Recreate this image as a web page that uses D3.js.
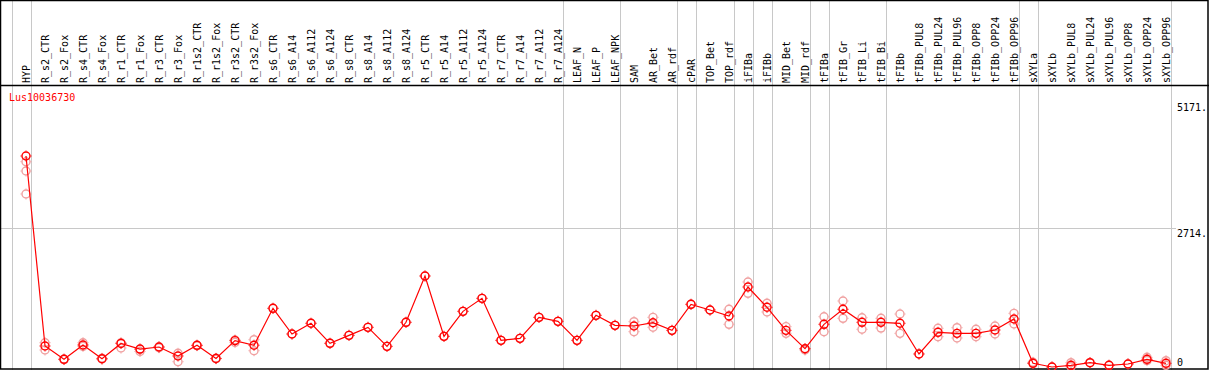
<!DOCTYPE html>
<html>
<head>
<meta charset="utf-8">
<script src="https://cdn.jsdelivr.net/npm/d3@7"></script>
<style>
  body { margin: 0; background: #fff; }
  text { font-family: "DejaVu Sans Mono", monospace; font-size: 10px; }
</style>
</head>
<body>
<div id="chart"></div>
<script>
const samples = [
    'HYP',
    'R_s2_CTR', 'R_s2_Fox', 'R_s4_CTR', 'R_s4_Fox', 'R_r1_CTR', 'R_r1_Fox', 'R_r3_CTR', 'R_r3_Fox',
    'R_r1s2_CTR', 'R_r1s2_Fox', 'R_r3s2_CTR', 'R_r3s2_Fox',
    'R_s6_CTR', 'R_s6_A14', 'R_s6_A112', 'R_s6_A124', 'R_s8_CTR', 'R_s8_A14', 'R_s8_A112', 'R_s8_A124',
    'R_r5_CTR', 'R_r5_A14', 'R_r5_A112', 'R_r5_A124', 'R_r7_CTR', 'R_r7_A14', 'R_r7_A112', 'R_r7_A124',
    'LEAF_N', 'LEAF_P', 'LEAF_NPK',
    'SAM', 'AR_Bet', 'AR_rdf',
    'cPAR',
    'TOP_Bet', 'TOP_rdf',
    'iFIBa',
    'iFIBb',
    'MID_Bet', 'MID_rdf',
    'tFIBa',
    'tFIB_Gr', 'tFIB_Li', 'tFIB_Bi',
    'tFIBb', 'tFIBb_PUL8', 'tFIBb_PUL24', 'tFIBb_PUL96', 'tFIBb_OPP8', 'tFIBb_OPP24', 'tFIBb_OPP96',
    'sXYLa',
    'sXYLb', 'sXYLb_PUL8', 'sXYLb_PUL24', 'sXYLb_PUL96', 'sXYLb_OPP8', 'sXYLb_OPP24', 'sXYLb_OPP96'
];

// number of samples in each group (grey separators between groups)
const groupSizes = [1, 28, 3, 3, 1, 2, 1, 1, 2, 1, 3, 7, 1, 7];

const means = [
    4117,
    410, 150, 430, 160, 460, 350, 390, 215, 423, 165, 515, 425,
    1145, 644, 853, 462, 618, 774, 403, 872,
    1776, 598, 1086, 1340, 520, 559, 969, 891,
    520, 1008, 813,
    800, 864, 715,
    1223,
    1112, 995,
    1561,
    1165,
    715, 357,
    833,
    1126, 872, 872,
    853, 254, 677, 657, 657, 722, 937,
    72,
    0, 33, 84, 33, 59, 150, 72
];

const replicates = [
    [4006, 3824, 3376],
    [474, 332], [150, 150], [474, 403], [170, 156], [474, 370], [345, 303], [377, 396], [267, 103],
    [423, 416], [163, 170], [527, 480], [533, 318],
    [1145], [644], [853], [462], [618], [774], [403], [872],
    [1776], [598], [1086], [1340], [520], [559], [969], [891],
    [520], [1008], [813],
    [884, 689], [969, 775], [715],
    [1223],
    [1112], [1126, 833],
    [1659, 1438],
    [1243, 1073],
    [787, 657], [357, 332],
    [981, 689],
    [1288, 950], [962, 736], [950, 760],
    [1034, 657], [254], [755, 591], [767, 566], [736, 591], [800, 644], [1047, 839],
    [92, 72],
    [0], [84, 5], [84], [33], [59], [189, 124], [123, 33]
];

const geneName = 'Lus10036730';
const yTicks = [0, 2714, 5171];
const yMax = 5171;

const W = 1209, H = 370;
const headerBottom = 85;

const svg = d3.select("#chart").append("svg")
    .attr("width", W)
    .attr("height", H);

const x = d3.scalePoint()
    .domain(samples)
    .range([26, 1166]);

const y = d3.scaleLinear()
    .domain([0, yMax])
    .range([367, 102]);

const step = x.step();

// group separators
let bounds = [x(samples[0]) - step + 4.7];
let acc = 0;
groupSizes.forEach(n => {
    acc += n;
    bounds.push(x(samples[acc - 1]) + 4.7);
});

svg.selectAll(".vgrid")
    .data(bounds)
  .enter().append("line")
    .attr("class", "vgrid")
    .attr("x1", d => Math.round(d) + 0.5)
    .attr("x2", d => Math.round(d) + 0.5)
    .attr("y1", 0)
    .attr("y2", H)
    .attr("stroke", "#c8c8c8")
    .attr("stroke-width", 1);

// horizontal grid (only the middle tick has a line)
svg.append("line")
    .attr("x1", 0)
    .attr("x2", 1176)
    .attr("y1", Math.round(y(yTicks[1])) + 0.5)
    .attr("y2", Math.round(y(yTicks[1])) + 0.5)
    .attr("stroke", "#c8c8c8");

// frame
svg.append("rect")
    .attr("x", 0.5)
    .attr("y", 0.5)
    .attr("width", W - 1.5)
    .attr("height", H - 1.5)
    .attr("fill", "none")
    .attr("stroke", "black")
    .attr("stroke-width", 1.5);

svg.append("line")
    .attr("x1", 0)
    .attr("x2", W)
    .attr("y1", headerBottom + 0.5)
    .attr("y2", headerBottom + 0.5)
    .attr("stroke", "black")
    .attr("stroke-width", 1.5);

// sample labels
svg.selectAll(".lab")
    .data(samples)
  .enter().append("text")
    .attr("class", "lab")
    .attr("transform", d => "translate(" + (x(d) + 3.5) + ",83) rotate(-90)")
    .attr("fill", "black")
    .text(d => d);

// y labels
svg.selectAll(".ylab")
    .data(yTicks)
  .enter().append("text")
    .attr("class", "ylab")
    .attr("x", 1177)
    .attr("y", d => Math.min(y(d) + 9, 366))
    .attr("fill", "black")
    .text(d => d === 0 ? "0" : d + ".");

svg.append("text")
    .attr("x", 9)
    .attr("y", 101)
    .attr("fill", "red")
    .text(geneName);

function marker(g, color) {
    g.append("circle")
        .attr("r", 4)
        .attr("fill", "none")
        .attr("stroke", color)
        .attr("stroke-width", 1.4);
    g.append("path")
        .attr("d", "M0,-5.5V-4.5M0,4.5V5.5M-5.5,0H-4.5M4.5,0H5.5")
        .attr("stroke", color)
        .attr("stroke-width", 1);
}

// replicates
const repPoints = [];
replicates.forEach((vals, i) => vals.forEach(v => repPoints.push({ s: samples[i], v: v })));

svg.selectAll(".rep")
    .data(repPoints)
  .enter().append("g")
    .attr("class", "rep")
    .attr("transform", d => "translate(" + x(d.s) + "," + y(d.v) + ")")
    .each(function() { marker(d3.select(this), "#f0a0a0"); });

// mean line
const line = d3.line()
    .x((d, i) => x(samples[i]))
    .y(d => y(d));

svg.append("path")
    .datum(means)
    .attr("d", line)
    .attr("fill", "none")
    .attr("stroke", "red")
    .attr("stroke-width", 1.2);

svg.selectAll(".pt")
    .data(means)
  .enter().append("g")
    .attr("class", "pt")
    .attr("transform", (d, i) => "translate(" + x(samples[i]) + "," + y(d) + ")")
    .each(function() { marker(d3.select(this), "red"); });
</script>
</body>
</html>
